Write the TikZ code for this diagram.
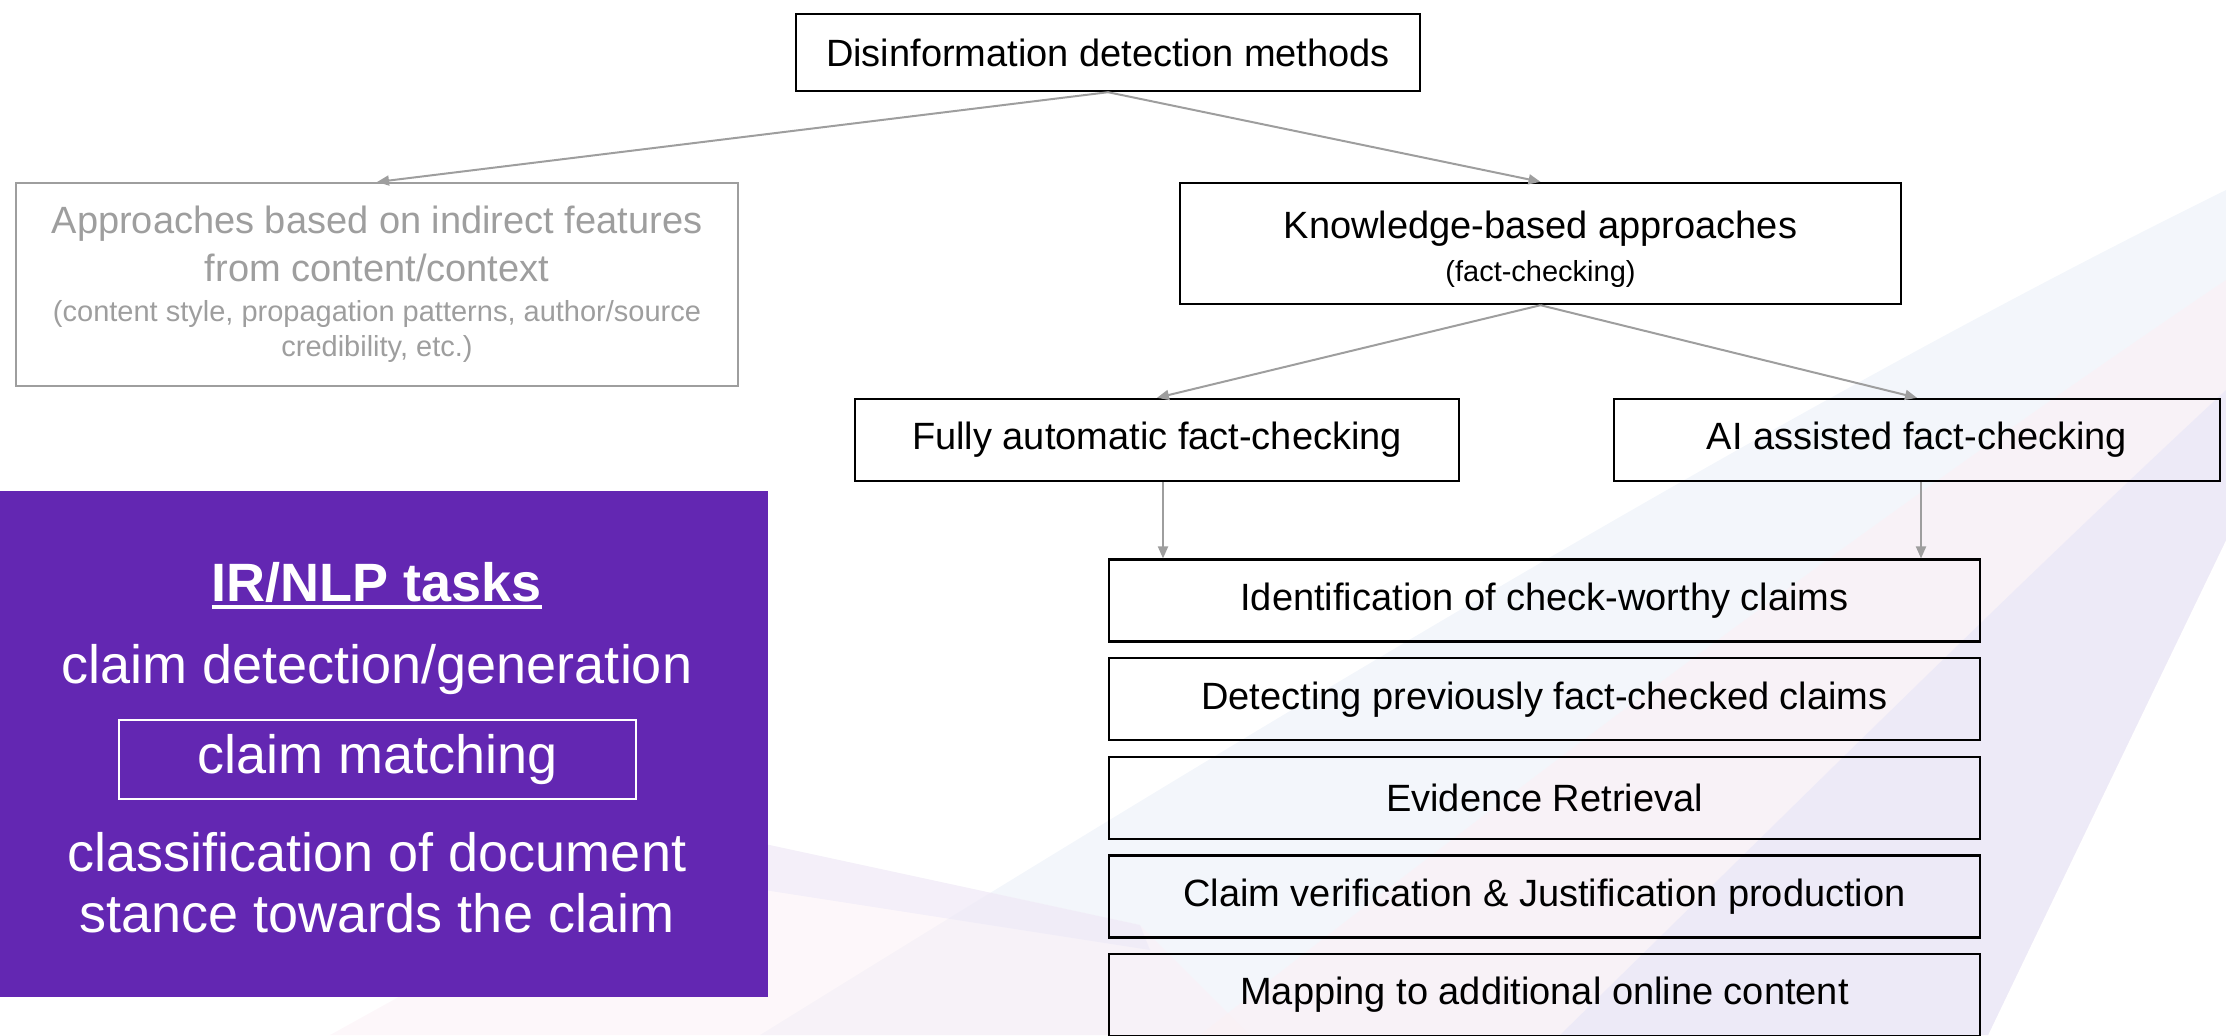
\documentclass[tikz,border=0pt]{standalone}
\usepackage{fontspec}
\setmainfont{Liberation Sans}
\usetikzlibrary{arrows.meta}
\definecolor{panelpurple}{RGB}{99,39,178}
\definecolor{linegrey}{RGB}{158,158,158}
\definecolor{lav}{RGB}{234,231,248}
\definecolor{rosy}{RGB}{252,240,245}
\definecolor{skyish}{RGB}{240,244,250}
\newcommand{\mainsize}{\fontsize{19}{24}\selectfont}
\newcommand{\smallsize}{\fontsize{14.5}{17.5}\selectfont}
\newcommand{\bigsize}{\fontsize{27}{30.5}\selectfont}

\begin{document}
\begin{tikzpicture}[x=0.5pt,y=-0.5pt,
  box/.style={draw,line width=1.2pt,minimum height=41pt,font=\mainsize,inner sep=0pt},
  greybox/.style={draw=linegrey,line width=1pt,text=linegrey,font=\mainsize,align=center,minimum width=361pt,minimum height=101.5pt,inner sep=0pt},
  task/.style={box,minimum width=435.5pt},
  link/.style={draw=linegrey,line width=1pt,-{Triangle[length=6pt,width=5pt]}}]
\useasboundingbox (0,0) rectangle (2226,1035);
% background swooshes
\fill[skyish,opacity=.8] (760,1035) .. controls (1300,700) and (1800,400) .. (2226,190) -- (2226,540) .. controls (2120,760) .. (1988,1035) -- cycle;
\fill[rosy,opacity=.6] (1200,1035) .. controls (1550,760) and (1900,500) .. (2226,280) -- (2226,540) .. controls (2120,760) .. (1988,1035) -- cycle;
\fill[lav,opacity=.7] (1560,1035) .. controls (1800,800) and (2000,600) .. (2226,390) -- (2226,540) .. controls (2120,760) .. (1988,1035) -- cycle;
\fill[rosy,opacity=.5] (330,1035) -- (700,830) -- (1140,925) -- (1250,1035) -- cycle;
\fill[lav,opacity=.5] (700,830) -- (1140,925) -- (1150,950) -- (700,880) -- cycle;

\node[box,minimum width=312pt,minimum height=38.5pt] (top) at (1108,52.5) {Disinformation detection methods};
\node[greybox] (indirect) at (377,284.5) {Approaches based on indirect features\\ from content/context\\[-4pt] {\smallsize (content style, propagation patterns, author/source}\\[-6.5pt] {\smallsize credibility, etc.)}};
\node[box,minimum width=360.5pt,minimum height=60.5pt,align=center] (know) at (1540.5,243.5) {\rule{0pt}{19.5pt}Knowledge-based approaches\\[-3pt]{\smallsize (fact-checking)}};
\node[box,minimum width=302pt] (fully) at (1157,440) {Fully automatic fact-checking};
\node[box,minimum width=303pt] (assist) at (1917,440) {AI assisted fact-checking};
\foreach \txt [count=\i] in {Identification of check-worthy claims,Detecting previously fact-checked claims,Evidence Retrieval,{Claim verification \& Justification production},Mapping to additional online content}
  \node[task] (t\i) at (1544.5,502+98.6*\i) {\txt};

% IR/NLP panel
\node[fill=panelpurple,minimum width=384pt,minimum height=253pt,inner sep=0pt] (panel) at (384,744) {};
\node[text=white,font=\bigsize\bfseries,inner sep=0pt] (irnlp) at (377,582) {IR/NLP tasks};
\draw[white,line width=2pt] ([yshift=-3pt]irnlp.base west) -- ([yshift=-3pt]irnlp.base east);
\node[text=white,font=\bigsize] (detect) at (377,670) {claim detection/generation};
\node[draw=white,line width=1pt,text=white,font=\bigsize,minimum width=258.5pt,minimum height=39.5pt,inner sep=0pt] (match) at (377.5,759.5) {claim matching};
\node[text=white,font=\bigsize,align=center] (stance) at (377,882.5) {classification of document\\ stance towards the claim};

\draw[link] (top.south) -- (indirect.north);
\draw[link] (top.south) -- (know.north);
\draw[link] (know.south) -- (fully.north);
\draw[link] (know.south) -- (assist.north);
\draw[link] ([xshift=3pt]fully.south) -- ([xshift=3pt]fully.south |- t1.north);
\draw[link] ([xshift=2pt]assist.south) -- ([xshift=2pt]assist.south |- t1.north);
\end{tikzpicture}
\end{document}
